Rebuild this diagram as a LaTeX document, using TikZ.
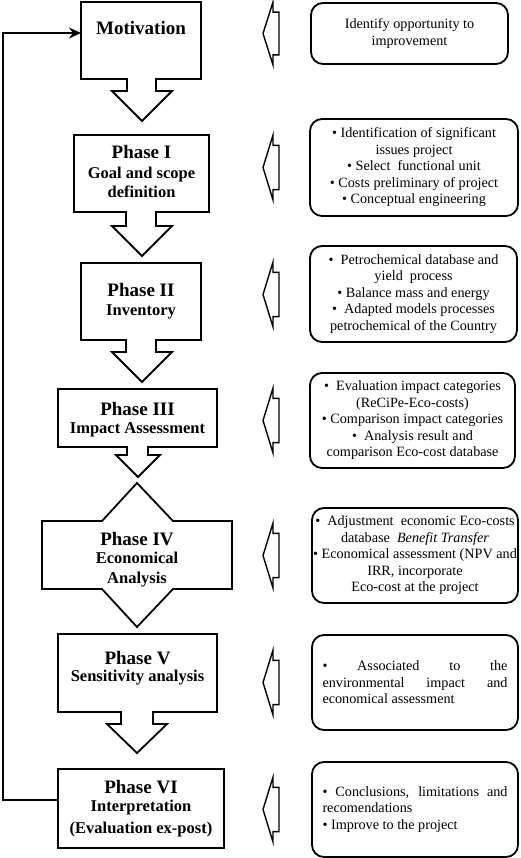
\documentclass[tikz,border=0pt]{standalone}
\usepackage{fontspec}
\setmainfont{Liberation Serif}
\usetikzlibrary{arrows.meta}
\tikzset{
  callout/.style={draw, line width=1.8pt, fill=white, line join=miter},
  headtxt/.style={font=\fontsize{19}{21}\selectfont\bfseries, inner sep=0pt},
  subtxt/.style={font=\fontsize{16.5}{19}\selectfont\bfseries, inner sep=0pt, align=center},
  notebox/.style={draw, line width=1.8pt, rounded corners=12pt, inner sep=3pt, align=center,
     font=\fontsize{14.2}{16.5}\selectfont},
  larrow/.style={draw, line width=1.4pt, fill=white, line join=miter},
  loopline/.style={line width=1.8pt, -{Stealth[length=12pt,width=11pt,inset=4pt]}}
}
\newcommand\notearrow[2]{%
  \draw[larrow] (263,{(#1+#2)/2}) -- (273,#1) -- (273,{#1+0.16*(#2-#1)}) -- (279,{#1+0.16*(#2-#1)})
    -- (279,{#2-0.16*(#2-#1)}) -- (273,{#2-0.16*(#2-#1)}) -- (273,#2) -- cycle;}
\begin{document}
\begin{tikzpicture}[x=1pt,y=-1pt]
\useasboundingbox (0,0) rectangle (520,858);
% left column shapes
\draw[callout] (81,2) -- (201,2) -- (201,79) -- (156,79) -- (156,91) -- (172,91) -- (142,121)
   -- (112,91) -- (127,91) -- (127,79) -- (81,79) -- cycle;
\draw[callout] (74,135) -- (209,135) -- (209,212) -- (156,212) -- (156,226) -- (172,226) -- (142,256)
   -- (112,226) -- (126,226) -- (126,212) -- (74,212) -- cycle;
\draw[callout] (81,263) -- (201,263) -- (201,340) -- (156,340) -- (156,352) -- (172,352) -- (142,382)
   -- (112,352) -- (126,352) -- (126,340) -- (81,340) -- cycle;
\draw[callout] (58,389) -- (217,389) -- (217,447) -- (148,447) -- (148,455) -- (160,455) -- (138,477)
   -- (116,455) -- (127,455) -- (127,447) -- (58,447) -- cycle;
\draw[callout] (42,521) -- (102,521) -- (137,483) -- (173,521) -- (232,521) -- (232,589)
   -- (173,589) -- (137,627) -- (102,589) -- (42,589) -- cycle;
\draw[callout] (58,634) -- (217,634) -- (217,712) -- (153,712) -- (153,724) -- (167,724) -- (137,753)
   -- (107,724) -- (121,724) -- (121,712) -- (58,712) -- cycle;
\draw[callout] (58,769) rectangle (224,848);
% left texts
\node[headtxt] (mott) at (141,28) {Motivation};
\node[headtxt] (p1t) at (141.5,152) {Phase I};
\node[subtxt] (p1s) at (141.5,182.5) {Goal and scope\\definition};
\node[headtxt] (p2t) at (141,290) {Phase II};
\node[subtxt] (p2s) at (141,312) {Inventory};
\node[headtxt] (p3t) at (137.5,409) {Phase III};
\node[subtxt] (p3s) at (137.5,430) {Impact Assessment};
\node[headtxt] (p4t) at (137,539) {Phase IV};
\node[subtxt] (p4s) at (137,570) {Economical\\[1pt]Analysis};
\node[headtxt] (p5t) at (137.5,658) {Phase V};
\node[subtxt] (p5s) at (137.5,678) {Sensitivity analysis};
\node[headtxt] (p6t) at (141,787) {Phase VI};
\node[subtxt] (p6s) at (141,819) {Interpretation\\[3pt](Evaluation ex-post)};
% feedback loop
\coordinate (fbstart) at (58,800);
\coordinate (motin) at (81,33);
\draw[loopline] (fbstart) -- ++(-55,0) |- (motin);
% arrows pointing left
\notearrow{2}{65}
\notearrow{135}{200}
\notearrow{262}{327}
\notearrow{388}{453}
\notearrow{523}{588}
\notearrow{650}{715}
\notearrow{777}{842}
% note boxes
\node[notebox, minimum width=197pt, minimum height=61pt] (n0) at (409.5,33.5)
  {Identify opportunity to\\improvement};
\node[notebox, minimum width=208pt, minimum height=97pt] (n1) at (414,167.5)
  {• Identification of significant\\issues project\\• Select\ \ functional unit\\• Costs preliminary of project\\• Conceptual engineering};
\node[notebox, minimum width=207pt, minimum height=96pt] (n2) at (413.5,294)
  {•\ \ Petrochemical database and\\yield\ \ process\\• Balance mass and energy\\•\ \ Adapted models processes\\petrochemical of the Country};
\node[notebox, minimum width=205pt, minimum height=95pt] (n3) at (412.5,420.5)
  {•\ \ Evaluation impact categories\\(ReCiPe-Eco-costs)\\• Comparison impact categories\\•\ \ Analysis result and\\comparison Eco-cost database};
\node[notebox, minimum width=206pt, minimum height=95pt, inner sep=1pt] (n4) at (415,555.5)
  {•\ \ Adjustment\ \ economic Eco-costs\\database\ \ \textit{Benefit Transfer}\\• Economical assessment (NPV and\\IRR, incorporate\\Eco-cost at the project};
\node[notebox, align=justify, minimum width=206pt, minimum height=95pt, text width=185pt] (n5) at (415,682.5)
  {• Associated to the\linebreak environmental impact and\linebreak economical assessment};
\node[notebox, align=justify, minimum width=206pt, minimum height=95pt, text width=185pt] (n6) at (415,809.5)
  {• Conclusions, limitations and\linebreak recomendations\\• Improve to the project};
\end{tikzpicture}
\end{document}
